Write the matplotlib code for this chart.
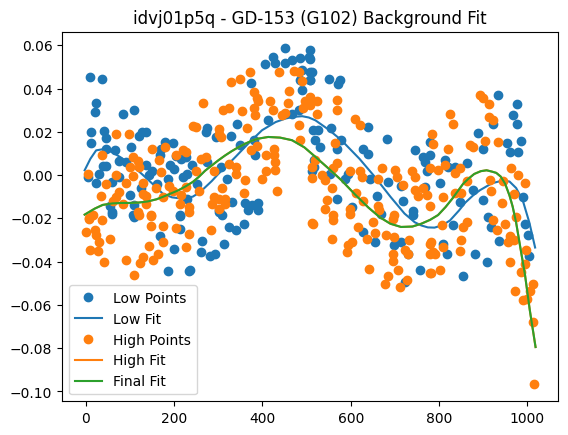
#Python code for plotting
import matplotlib.pyplot as plt

#Low background points (column, value)
low_x = [10, 37, 23, 21, 85, 108, 11, 40, 45, 12, 127, 135, 120, 103, 46, 65, 178, 197, 167, 215,
         76, 46, 38, 136, 191, 5, 23, 76, 144, 219, 99, 54, 60, 110, 106, 212,
         30, 60, 150, 160, 185, 200, 90, 125, 170, 205,
         59, 110, 167, 214, 214, 200, 185, 234,
         450, 423, 406, 429, 452, 467, 486, 505, 490, 508, 508, 486, 490, 373, 467, 482, 413, 343,
         275, 271, 294, 328, 350, 380, 384, 226, 241, 230, 275, 305, 516, 516, 320, 252, 230, 331,
         361, 376, 391, 301,
         301, 309, 324, 339, 358, 264, 313, 260, 280, 292, 235, 367, 390,
         508, 508, 512, 508, 551, 576, 572, 527, 555, 515, 519, 530, 579, 639, 683, 628, 639, 745,
         764, 768, 772, 512, 568, 553, 587, 595, 643, 685, 715, 768, 568, 659, 719, 602, 741,
         628, 654, 699, 715, 729, 756, 722, 741, 669,
         934, 976, 968, 977, 889, 987, 954, 960, 979, 900, 923, 780, 780, 814, 821, 836, 802, 863,
         878, 900, 991, 847,
         911, 919, 994, 1001, 1005, 937, 881, 909, 855, 818, 810, 832]
low_y = [0.0451, 0.0446, 0.0333, 0.0292, 0.0284, 0.0299, 0.0199, 0.0203, 0.0173, 0.0148, 0.0199,
         0.0198, 0.018, 0.013, 0.0122, 0.0114, 0.0153, 0.015, 0.0094, 0.0076,
         0.0065, 0.004, 0.004, 0.0045, 0.0045, -0.0009, -0.0039, -0.0009, -0.0001, -0.0009, -0.0094,
         -0.0141, -0.0172, -0.014, -0.0186, -0.0186,
         0.0005, -0.003, 0.002, -0.004, -0.002, 0.003, 0.006, -0.006, 0.012, 0.009,
         -0.0181, -0.0194, -0.0283, -0.019, -0.0248, -0.034, -0.0444, -0.0442,
         0.0585, 0.0546, 0.0515, 0.0518, 0.0518, 0.0533, 0.0542, 0.0545, 0.0484, 0.0476, 0.0438,
         0.0438, 0.0395, 0.0426, 0.0284, 0.0299, 0.0256, 0.0238,
         0.0219, 0.0199, 0.0176, 0.0179, 0.0137, 0.016, 0.0091, 0.0083, 0.0045, 0.0006, 0.006, 0.0037,
         0.0068, 0.0037, -0.0018, -0.0041, -0.011, -0.0124,
         -0.0127, -0.014, -0.013, -0.0163,
         -0.017, -0.0186, -0.024, -0.0253, -0.0228, -0.0305, -0.0317, -0.0356, -0.0376, -0.0367,
         -0.044, -0.0163, -0.0163,
         0.0577, 0.0538, 0.0476, 0.0438, 0.0445, 0.0438, 0.0422, 0.0207, 0.0219, 0.0207, 0.016,
         0.013, 0.016, 0.0222, 0.0168, 0.0122, 0.0099, 0.0117,
         0.0083, 0.006, 0.0021, 0.0021, 0.0122, 0.0006, -0.0018, 0.0006, -0.0018, -0.0033, -0.0049,
         -0.0056, -0.011, -0.0095, -0.0118, -0.0149, -0.0165,
         -0.0263, -0.0309, -0.0325, -0.0309, -0.0364, -0.0441, -0.0495, -0.0186, -0.0178,
         0.0369, 0.033, 0.0276, 0.0238, 0.0196, 0.0159, 0.0148, 0.0106, 0.0106, 0.0122, 0.0238,
         0.0153, 0.0091, 0.0068, 0.0037, 0.0037, -0.0037, 0.0056,
         -0.0071, -0.0117, -0.0101, -0.0124,
         -0.0194, -0.024, -0.0225, -0.0279, -0.0376, -0.0305, -0.0367, -0.0401, -0.0468, -0.0363,
         -0.0317, -0.0232]

#High background points (column, value)
high_x = [69, 97, 150, 178, 219, 37, 106, 118, 99, 121, 165, 204, 5, 67, 106, 170, 91, 129, 46,
          159, 189, 197, 35, 76, 69, 61, 129, 136, 135, 174, 215, 84, 16, 8, 118, 148, 212, 242,
          7, 37, 1, 20, 23, 29, 10, 27, 55, 40, 120, 148, 148, 174, 204, 142, 174, 163, 151, 129,
          123, 91, 108,
          371, 348, 328, 438, 471, 482, 490, 461, 380, 387, 391, 418, 266, 324, 310, 354, 380, 425,
          459, 497, 508, 493, 452, 444, 384, 249, 301, 301, 305, 365, 482, 486, 373, 388, 407, 426,
          426, 226, 260, 271, 324, 339, 429, 407, 429, 249, 290, 339, 361, 399, 226, 256, 309, 358,
          433, 290, 301, 316, 286, 316, 234, 301,
          234, 234, 226, 283, 512,
          508, 523, 508, 523, 568, 568, 609, 621, 564, 786, 519, 512, 568, 560, 598, 621, 670, 700,
          704, 738, 745, 512, 534, 542, 625, 663, 719, 557, 745, 764, 772, 753, 613, 628, 546, 542,
          598, 663, 699, 779,
          515, 561, 561, 598, 557, 617, 594, 602, 591, 650, 654, 637, 680, 695, 699, 695, 695, 733,
          722, 729, 641, 708, 685, 678, 727, 712, 783, 790, 783, 665,
          893, 900, 914, 825, 832, 914, 923, 784, 870, 878, 904, 934, 821, 814, 799, 836, 780, 847,
          964, 979, 994, 864, 915, 945, 836, 851, 810, 919, 942, 971,
          808, 855, 863, 923, 949, 931, 960, 971, 956, 975, 851, 780, 780, 787, 810, 847, 802, 780,
          960, 985, 998, 996, 1013, 1006, 972, 991, 1000, 1013, 1016]
high_y = [0.0188, 0.0191, 0.0122, 0.013, 0.0114, 0.0091, 0.0083, 0.0065, 0.0037, 0.0037, 0.0068,
          0.0091, 0.0007, -0.0001, -0.0006, 0.0014, -0.0036, -0.0036, -0.004,
          -0.006, -0.005, -0.0075, -0.0098, -0.008, -0.0103, -0.0118, -0.0088, -0.0096, -0.0134,
          -0.0103, -0.0094, -0.0134, -0.0186, -0.0197, -0.0171, -0.0186, -0.0134, 0.0225,
          -0.0201, -0.0209, -0.0263, -0.0255, -0.0279, -0.0309, -0.0345, -0.0351, -0.0294, -0.0402,
          -0.0186, -0.019, -0.0237, -0.0237, -0.0243, -0.0329, -0.0309, -0.0363, -0.0391, -0.0381,
          -0.0405, -0.0391, -0.0464,
          0.0476, 0.0446, 0.043, 0.0476, 0.0479, 0.0476, 0.0434, 0.0387, 0.0382, 0.0355, 0.034,
          0.0343, 0.0332, 0.0312, 0.0301, 0.0296, 0.0308, 0.0301,
          0.0332, 0.034, 0.0355, 0.0312, 0.0286, 0.0278, 0.0276, 0.0222, 0.0215, 0.0192, 0.0176,
          0.0219, 0.023, 0.016, 0.0114, 0.0133, 0.0091, 0.0122,
          0.0091, 0.0107, 0.0076, 0.0083, 0.0053, 0.0037, 0.006, 0.0021, 0.0024, 0.0021, 0.0021,
          0.0006, -0.0022, -0.0018, -0.0053, -0.0072, -0.006, -0.0081,
          -0.0076, -0.0103, -0.011, -0.011, -0.0134, -0.0134, -0.0149, -0.0157,
          -0.0171, -0.0274, -0.0333, -0.0252, -0.0222,
          0.0361, 0.034, 0.0322, 0.0284, 0.0348, 0.0302, 0.026, 0.023, 0.0149, 0.0145, 0.0068, 0.0037,
          0.0056, 0.0034, 0.0018, 0.0021, 0.0034, 0.0024,
          -0.0011, 0.0018, -0.0011, -0.0014, 0.0, -0.0022, -0.0011, -0.0018, -0.0045, -0.0061,
          -0.0069, -0.006, -0.0091, -0.0098, -0.0084, -0.0121, -0.0114, -0.0157,
          -0.0157, -0.0145, -0.0184, -0.0141,
          -0.0225, -0.0186, -0.0206, -0.0178, -0.0294, -0.024, -0.0325, -0.0309, -0.0356, -0.0217,
          -0.0268, -0.0294, -0.0279, -0.0202, -0.0286, -0.0364, -0.0398, -0.0302,
          -0.0348, -0.0364, -0.0433, -0.0438, -0.0468, -0.0505, -0.0487, -0.0518, -0.0309, -0.0364,
          -0.0453, -0.0163,
          0.0369, 0.0357, 0.033, 0.028, 0.0238, 0.0266, 0.0253, 0.019, 0.0137, 0.013, 0.0156, 0.0151,
          0.012, 0.0048, 0.0022, 0.001, 0.0034, 0.0033,
          0.0034, -0.0002, -0.0036, -0.0029, -0.0022, -0.0029, -0.0083, -0.0083, -0.0101, -0.0075,
          -0.0129, -0.0087,
          -0.0232, -0.024, -0.0217, -0.0209, -0.0225, -0.0256, -0.0283, -0.0302, -0.031, -0.0194,
          -0.0302, -0.0317, -0.0363, -0.0355, -0.0333, -0.0351, -0.044, -0.0453,
          -0.04, -0.0448, -0.0345, -0.0412, -0.0504, -0.0534, -0.0537, -0.0578, -0.0573, -0.0681,
          -0.0968]

#Fitted curves
low_fit_x = [-3, 10, 23, 40, 60, 80, 99, 120, 140, 160, 174, 195, 210, 230, 242, 258, 271, 285,
             300, 320, 339, 370, 399, 430, 452, 470, 490, 505, 520, 550, 579, 620, 655, 690, 722,
             745, 760, 775, 790, 808, 825, 845, 860, 878, 893, 920, 945, 960, 975, 990, 1005, 1018]
low_fit_y = [0.0022, 0.0075, 0.0114, 0.012, 0.0105, 0.008, 0.0053, 0.0017, -0.002, -0.0058,
             -0.0086, -0.0103, -0.0107, -0.0104, -0.010, -0.008, -0.0055, -0.0028, 0.0005, 0.0045,
             0.0084, 0.015, 0.0207, 0.0245, 0.0261, 0.0269, 0.0272, 0.0266, 0.0253, 0.021, 0.0161,
             0.0075, -0.0009, -0.010, -0.0178, -0.0218, -0.0233, -0.0242, -0.0243, -0.0232, -0.021,
             -0.0165, -0.0127, -0.0093, -0.007, -0.0038, -0.0025, -0.003, -0.006, -0.0117, -0.022,
             -0.0335]

final_fit_x = [-3, 20, 38, 60, 80, 99, 120, 140, 160, 174, 195, 210, 226, 242, 256, 270, 285, 300,
               315, 330, 345, 361, 375, 390, 413, 440, 467, 495, 520, 550, 579, 610, 640, 666, 690,
               714, 740, 760, 780, 798, 815, 830, 845, 855, 868, 880, 895, 908, 920, 930, 940, 950,
               960, 967, 975, 983, 995, 1006, 1019]
final_fit_y = [-0.0183, -0.0155, -0.0138, -0.0131, -0.0129, -0.0129, -0.0127, -0.0122, -0.0112,
               -0.0101, -0.0083, -0.007, -0.0052, -0.0032, -0.0008, 0.002, 0.0044, 0.0068, 0.009,
               0.011, 0.0128, 0.0145, 0.0158, 0.0168, 0.0176, 0.0173, 0.0161, 0.0128, 0.0084, 0.003,
               -0.0024, -0.009, -0.015, -0.0195, -0.0225, -0.024, -0.0238, -0.0225, -0.0207,
               -0.0185, -0.0148, -0.011, -0.0068, -0.004, -0.0015, 0.0005, 0.0018, 0.0022, 0.0016,
               0.001, -0.0007, -0.004, -0.0095, -0.0145, -0.022, -0.0317, -0.046, -0.0625, -0.0795]

#High fit lies under the final fit
high_fit_x = list(final_fit_x)
high_fit_y = list(final_fit_y)

#Create the plot
plt.figure(figsize=(6.4, 4.8))
plt.plot(low_x, low_y, 'o', color='C0', label='Low Points')
plt.plot(low_fit_x, low_fit_y, color='C0', label='Low Fit')
plt.plot(high_x, high_y, 'o', color='C1', label='High Points')
plt.plot(high_fit_x, high_fit_y, color='C1', label='High Fit')
plt.plot(final_fit_x, final_fit_y, color='C2', label='Final Fit')

plt.title('idvj01p5q - GD-153 (G102) Background Fit')
plt.legend(loc='lower left')

#Save the plot
plt.savefig('out.png', bbox_inches='tight')
